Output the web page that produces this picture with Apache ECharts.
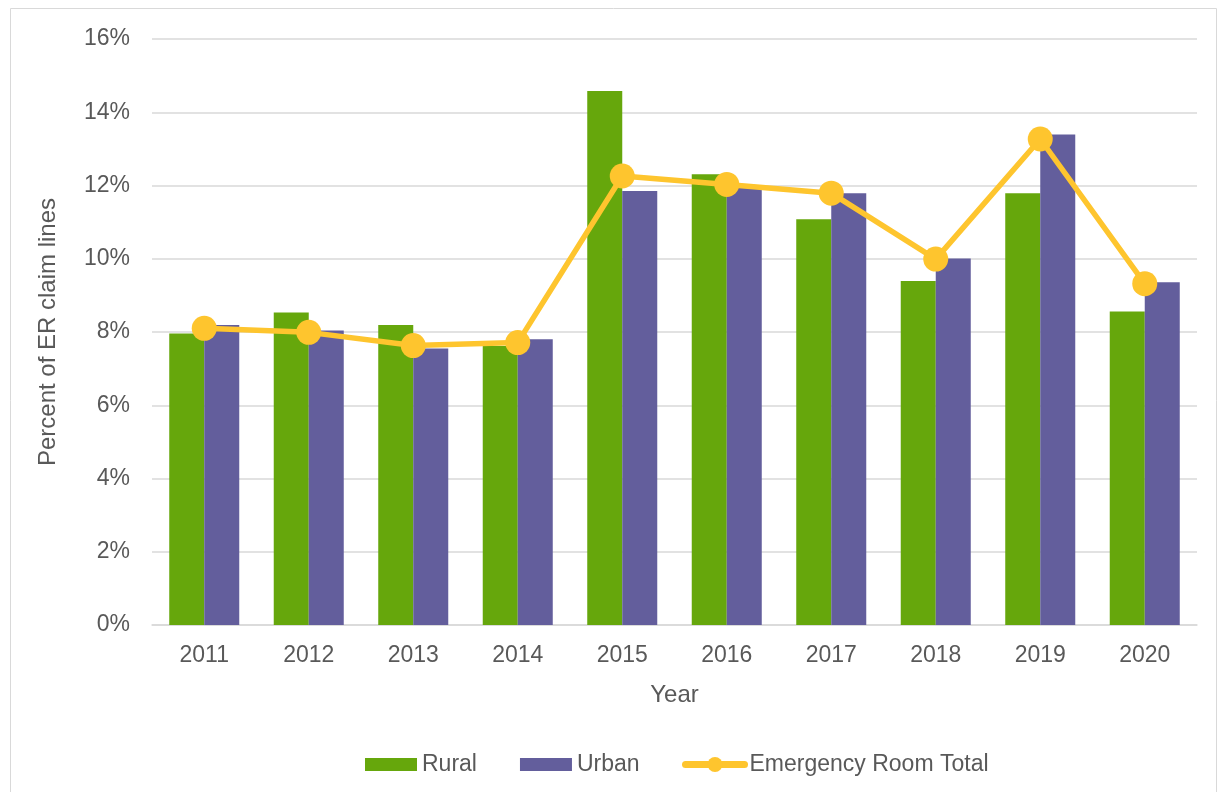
<!DOCTYPE html>
<html><head><meta charset="utf-8">
<script src="https://cdn.jsdelivr.net/npm/echarts@6/dist/echarts.min.js"></script>
<style>html,body{margin:0;padding:0;background:#fff}#c{width:1219px;height:792px}</style>
</head><body><div id="c"></div>
<script>
const years = ['2011','2012','2013','2014','2015','2016','2017','2018','2019','2020'];
const rural = [7.96, 8.53, 8.19, 7.62, 14.58, 12.31, 11.08, 9.39, 11.79, 8.56];
const urban = [8.19, 8.04, 7.55, 7.80, 11.85, 11.95, 11.79, 10.01, 13.39, 9.36];
const erTotal = [8.10, 7.99, 7.63, 7.71, 12.26, 12.03, 11.79, 9.99, 13.27, 9.32];
const yTicks = [0, 2, 4, 6, 8, 10, 12, 14, 16];

const font = 'Liberation Sans, Arial, sans-serif';
const txt = '#595959';
const chart = echarts.init(document.getElementById('c'), null, {renderer:'canvas'});
chart.setOption({
  animation: false,
  textStyle: {fontFamily: font},
  graphic: [{type:'rect', shape:{x:10.5,y:8.5,width:1206,height:800}, style:{fill:'none', stroke:'#d9d9d9', lineWidth:1}, silent:true}],
  grid: {left:152, right:22, top:39, bottom:167},
  legend: [
    {
      left: 360, top: 748, itemGap: 43, itemWidth: 52, itemHeight: 13,
      textStyle: {fontSize: 23, color: txt, fontFamily: font},
      data: [{name:'Rural', icon:'rect'}, {name:'Urban', icon:'rect'}]
    },
    {
      left: 677, top: 748, itemWidth: 59, itemHeight: 19,
      textStyle: {fontSize: 23, color: txt, fontFamily: font},
      lineStyle: {width: 7, cap: 'round'},
      data: [{name:'Emergency Room Total'}]
    }
  ],
  xAxis: {
    type:'category', data: years,
    name:'Year', nameLocation:'middle', nameGap: 58,
    nameTextStyle:{fontSize:24, color: txt},
    axisLine:{lineStyle:{color:'#d9d9d9', width:1.5}},
    axisTick:{show:false},
    axisLabel:{fontSize:23, color: txt, margin:19}
  },
  yAxis: {
    type:'value', min: yTicks[0], max: yTicks[yTicks.length-1], interval: 2,
    name:'Percent of ER claim lines', nameLocation:'middle', nameGap: 92,
    nameTextStyle:{fontSize:24, color: txt},
    axisLine:{show:false}, axisTick:{show:false},
    axisLabel:{fontSize:23, color: txt, margin:22, formatter: v => v + '%'},
    splitLine:{lineStyle:{color:'#d9d9d9', width:1.5}}
  },
  series: [
    {name:'Rural', type:'bar', data: rural, barGap:'0%', barCategoryGap:'33%', itemStyle:{color:'#66a70c'}},
    {name:'Urban', type:'bar', data: urban, itemStyle:{color:'#635e9c'}},
    {name:'Emergency Room Total', type:'line', data: erTotal, symbol:'circle', symbolSize:25,
      lineStyle:{color:'#fec52e', width:5.5}, itemStyle:{color:'#fec52e'}, z:5}
  ]
});
</script></body></html>
